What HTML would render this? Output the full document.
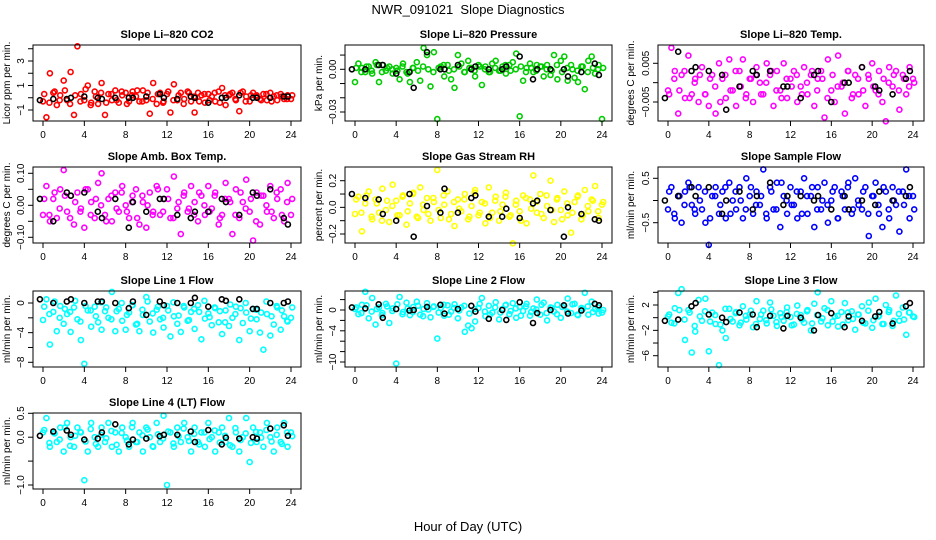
<!DOCTYPE html>
<html><head><meta charset="utf-8"><style>
html,body{margin:0;padding:0;background:#fff;}
svg{display:block;font-family:"Liberation Sans",sans-serif;}
</style></head><body>
<svg id="chart" width="936" height="540" viewBox="0 0 936 540" xmlns="http://www.w3.org/2000/svg">
<rect width="936" height="540" fill="#fff"/>
<text x="468" y="14" text-anchor="middle" font-size="13">NWR_091021&#160; Slope Diagnostics</text>
<text x="468" y="531" text-anchor="middle" font-size="13">Hour of Day (UTC)</text>
<g id="plots"></g>
</svg>
<script>
const hourTicks = [0,4,8,12,16,20,24];
const co2Values = [-0.3,-1.6,2.0,0.4,-0.6,0.2,1.4,-0.2,2.1,-1.4,4.2,0.3,-0.2,1.0,-0.4,0.5,-0.5,1.2,-1.4,0.3,-0.2,0.6,-0.4,0.2,0.4,-0.3,0.5,0.1,-0.3,0.6,-0.2,-1.3,1.2,-0.5,0.4,-0.3,0.3,-1.2,1.1,-0.2,0.4,-0.1,0.5,-0.3,-1.2,0.4,0.2,-0.4,0.3,0.1,-0.3,0.5,0.8,-0.6,0.2,0.4,-0.2,-1.1,0.5,0.1,-0.3,0.4,0.2,-0.1,0.3,-0.2,0.4,0.1,-0.2,0.3,-0.1,0.2,-0.1];
const co2Values2 = [0.3,-0.4,0.5,-0.2,0.6,-0.5,0.2,-0.3,0.7,-0.6,0.1,0.4,-0.4,0.3,-0.2,0.5,-0.5,0.2,0.6,-0.3,0.4,-0.1,0.3,-0.4,0.5,-0.2,0.2,-0.5,0.4,0.1,-0.3,0.3,-0.2,0.4,-0.4,0.2,0.3,-0.1,0.4,-0.3,0.2,0.1,-0.2,0.3,-0.3,0.2,0.1,-0.1,0.2];
const co2Black = [-0.2,-0.1,-0.1,0,0.1,0,-0.1,0,0,0,0.1,0.3,0,-0.1,0.1,0,-0.4,0,0,0.2,0,0,0,0.1,0.1];
const presValues = [-0.009,0.004,0.001,-0.002,0.002,-0.003,0.005,-0.009,0.003,-0.001,0.002,-0.003,0.001,-0.007,0.004,-0.002,-0.009,0.001,0.005,-0.008,0.015,0.010,-0.012,0.012,-0.035,0.002,-0.005,0.003,-0.007,-0.013,0.010,0.004,-0.002,0.006,0.001,-0.005,0.003,-0.011,0.002,-0.002,0.004,0.006,-0.001,0.002,-0.003,0.003,0.005,0.011,-0.033,-0.008,0.001,0.004,-0.002,0.003,0.002,-0.005,0.003,-0.004,0.010,-0.007,0.006,0.009,-0.008,0.003,-0.006,-0.009,0.002,-0.014,0.006,0.009,-0.003,0.003,-0.035];
const presValues2 = [0.001,-0.002,0.002,-0.001,0.003,-0.002,0.001,0,-0.001,0.002,-0.003,0.001,-0.001,0.002,0,-0.002,0.001,0.003,-0.001,0,0.002,-0.002,0.001,-0.001,0.002,0,-0.002,0.001,-0.001,0.003,-0.001,0,0.002,-0.002,0.001,-0.001,0.002,0,-0.001,0.003,-0.002,0.001,0,-0.001,0.002,-0.002,0.001,0,0.001];
const presBlack = [0,0,0.003,0.003,-0.003,-0.002,-0.013,0.012,0,0,0.003,0,0.002,0,0,0.002,0.009,-0.007,0,0,0,-0.005,-0.002,0.004,-0.004];
const ltempValues = [-0.002,0.009,0.003,-0.008,0.002,-0.004,0.007,-0.003,0.001,-0.005,0.004,-0.003,-0.006,0.002,-0.008,0.005,0.001,-0.004,0.006,-0.002,-0.006,0.003,0.006,-0.003,0.001,-0.005,0.004,0,-0.003,0.005,0.002,-0.006,0.003,-0.002,0.005,-0.004,0.001,0.003,-0.005,-0.001,0.004,-0.003,0.002,-0.006,0.001,0.003,-0.009,0.006,-0.002,-0.005,0.007,-0.001,-0.008,0.003,-0.004,0.002,-0.003,0.004,-0.006,0.001,0.005,-0.002,0.003,-0.005,-0.010,0.004,-0.001,0.003,-0.007,0.002,-0.003,0.004,0.001];
const ltempValues2 = [-0.003,0.001,-0.002,0.003,-0.004,0,0.002,-0.003,0.001,-0.001,-0.005,0.002,-0.002,0.003,-0.001,-0.004,0.001,0.002,-0.003,0,0.003,-0.002,-0.004,0.001,-0.001,0.002,-0.003,0,0.003,-0.002,0.001,-0.004,0.002,-0.001,0,0.003,-0.003,0.001,-0.002,0.002,-0.001,-0.003,0.001,0,0.002,-0.002,0.001,-0.001,0];
const ltempBlack = [-0.004,0.008,0.003,0.004,0.003,0.002,-0.007,-0.001,0.003,0.002,0.003,-0.001,-0.001,-0.004,0.002,0.003,-0.005,0,0,0.004,-0.001,-0.002,-0.003,0.001,0.003];
const ambValues = [-0.03,0.06,-0.05,0.02,-0.04,0.05,0.11,-0.02,0.03,-0.06,0.04,-0.01,-0.07,0.05,0.01,-0.04,0.07,0.10,-0.03,0.02,-0.05,0.04,-0.02,0.06,0,-0.04,0.03,0.05,-0.06,0.01,-0.07,0.04,-0.02,0.06,-0.03,0.02,0.05,-0.04,0.09,-0.01,-0.09,0.04,-0.02,0.06,0.01,-0.05,0.03,-0.03,0.06,-0.01,0.04,-0.06,-0.03,0.07,0.02,-0.09,0.05,-0.04,0.01,0.08,-0.02,-0.11,0.04,-0.06,0.03,-0.02,0.06,-0.04,0.02,0.05,-0.05,0.07,-0.03];
const ambValues2 = [0.02,-0.03,0.04,-0.01,0.03,-0.04,0.01,-0.02,0.05,-0.03,0.02,0,-0.05,0.03,-0.01,0.04,-0.02,0.01,-0.04,0.03,0,-0.03,0.05,-0.02,0.02,-0.04,0.01,0.03,-0.01,-0.03,0.04,0,-0.02,0.03,-0.04,0.02,0.01,-0.03,0.04,-0.01,0.02,-0.05,0.03,0,-0.02,0.04,-0.03,0.01,0.02];
const ambBlack = [0.02,-0.05,0.04,0.03,0.04,-0.02,-0.04,0.02,-0.07,0.01,-0.02,0.02,0.02,-0.03,-0.04,-0.02,-0.02,0.02,0.01,-0.03,0.04,0.03,0.05,-0.04,-0.06];
const rhValues = [-0.05,0.08,-0.18,0.03,0.12,-0.09,0.06,-0.04,0.14,-0.02,-0.11,0.17,0.05,-0.06,0.09,-0.13,0.03,0.11,-0.07,0.15,-0.02,0.07,-0.10,0.04,0.28,-0.08,0.02,0.12,-0.05,-0.14,0.06,-0.03,0.10,-0.09,0.01,0.13,-0.06,0.04,-0.12,0.15,-0.04,0.08,-0.10,0.02,0.11,-0.07,-0.27,0.05,-0.03,0.09,-0.12,0.06,0.24,-0.04,0.10,-0.08,0.01,0.20,-0.11,0.07,-0.02,0.12,-0.06,-0.19,0.04,0.09,-0.09,0.13,-0.03,0.06,0.16,-0.08,0.02];
const rhValues2 = [0.06,-0.04,0.09,-0.07,0.03,-0.10,0.05,0.01,-0.06,0.08,-0.03,0.10,-0.08,0.02,-0.05,0.07,-0.02,0.09,-0.09,0.04,-0.01,0.06,-0.07,0.11,-0.04,0.03,-0.08,0.05,-0.03,0.08,-0.06,0.02,-0.10,0.07,-0.01,0.04,-0.05,0.09,-0.02,0.06,-0.09,0.03,-0.04,0.08,-0.06,0.01,0.05,-0.03,0.04];
const rhBlack = [0.10,0.07,0.06,-0.05,-0.10,0.10,-0.22,0.01,-0.04,0.14,-0.04,0.07,0.09,-0.07,-0.07,-0.01,-0.08,0.03,0.05,-0.02,-0.22,0,-0.05,-0.09,-0.10];
const flowValues = [-0.2,0.3,-0.4,0.1,-0.5,0.2,0.4,-0.1,-0.3,0.3,-0.2,-0.5,-1.0,0.1,0.3,-0.3,0.2,-0.4,0.4,0,-0.2,0.3,-0.4,0.5,0.1,-0.3,0.2,-0.1,0.7,-0.4,0.3,-0.2,0.4,-0.6,0.1,-0.3,0.3,-0.1,-0.4,0.2,0.5,-0.3,0.1,-0.6,0.3,-0.2,0.4,-0.5,0,0.3,-0.4,0.2,-0.2,0.4,-0.3,0.5,-0.1,-0.2,0.3,-0.8,0.1,0.4,-0.3,-0.6,0.2,-0.4,0.3,-0.1,-0.7,0.2,0.7,-0.4,0.1];
const flowValues2 = [0.2,-0.3,0.1,-0.1,0.3,-0.2,0,0.2,-0.4,0.1,-0.1,0.3,-0.3,0.2,0,-0.2,0.3,-0.1,0.1,-0.3,0.2,-0.2,0.4,0,-0.1,0.2,-0.3,0.1,0.3,-0.2,0,-0.1,0.2,-0.4,0.1,0.3,-0.2,0,0.2,-0.3,0.1,-0.1,0.3,-0.2,0,0.2,-0.1,0.1,-0.2];
const flowBlack = [0,0.1,0.3,0.1,0.3,-0.3,0,0.2,-0.2,0.1,0.4,-0.1,0.1,0.1,0,0.1,-0.2,0.1,-0.2,0,-0.1,0.2,0,0.1,0.3];
const line1Values = [-2.3,0.5,-5.6,-1.2,-3.8,-0.4,-2.8,-1.5,-3.9,-0.6,-2.2,-5.0,-8.2,-1.0,-3.2,-0.5,-2.6,-3.6,-1.1,-2.0,1.5,-3.8,-0.8,-2.4,-3.6,-1.3,-0.3,-2.9,-3.8,-1.6,0.8,-2.5,-4.0,-0.9,-2.2,-3.3,-0.4,-4.5,-1.8,-2.8,-3.9,-0.6,-2.4,-1.2,-3.5,-0.3,-4.9,-2.1,-1.4,-3.0,-0.7,-2.6,-4.2,-1.0,-3.1,-2.0,-0.5,-5.0,-2.7,-1.3,-3.8,-0.8,-2.2,-4.0,-6.3,-1.5,-4.4,-2.9,-0.6,-3.6,-1.8,-2.5,-2.0];
const line1Values2 = [-0.5,-1.5,0.2,-2.0,-0.8,-1.2,0.3,-2.5,-0.4,-1.0,-1.8,0.1,-0.6,-2.2,-1.1,0.0,-1.6,-0.3,-2.8,-0.9,0.2,-1.4,-0.5,-2.0,-1.0,0.1,-1.7,-0.4,-2.3,-0.8,-1.2,0.3,-1.9,-0.6,-1.1,-2.6,-0.2,-1.5,-0.7,0.0,-2.1,-0.9,-1.3,0.2,-1.8,-0.4,-1.0,-2.4,-0.6];
const line1Black = [0.5,0,0.2,0.5,0,0.2,0.2,0,-0.7,0.2,-1.6,0.2,-0.3,0,0,0.7,-0.5,0.5,0.3,0.5,-0.8,-0.8,0,0,0.2];
const line2Values = [0.2,-0.8,1.0,3.5,-1.6,2.3,-2.8,0.5,-0.6,1.2,-2.5,0.3,-10.3,2.5,-0.4,1.4,-1.0,0.6,1.6,-0.9,0.2,1.3,-1.4,0.7,-5.5,0.4,-1.1,0.9,-0.3,1.1,-1.6,0.5,-4.2,-3.0,-3.5,-2.2,0.4,2.3,-1.2,0.8,-0.5,1.5,-1.8,0.2,1.0,-0.8,1.3,-1.5,0.6,-0.2,1.2,-1.1,0.3,2.0,-0.9,1.4,-2.0,0.5,-0.3,1.0,-1.5,0.8,2.2,-0.6,1.2,-1.0,0.4,3.3,-0.9,1.6,0.2,-0.7,-0.5];
const line2Values2 = [0.5,-0.6,0.9,-0.3,0.2,-1.0,0.7,-0.2,1.1,-0.8,0.3,-0.4,0.8,-1.2,0.1,0.6,-0.5,1.0,-0.9,0.4,-0.1,0.8,-0.7,0.2,1.2,-0.3,-0.9,0.5,-0.5,0.9,-0.2,0.3,-1.1,0.7,-0.4,0.1,1.0,-0.6,0.4,-0.8,0.6,-0.3,1.1,-0.9,0.2,0.7,-0.4,0.5,0.0];
const line2Black = [0.5,0.3,1.1,-1.5,0.2,-0.1,0,0.6,1.0,-0.7,0.2,0.8,-0.3,-1.7,0,-1.9,1.5,-2.5,-0.6,0,0.9,-0.7,-0.1,1.2,0.9];
const line3Values = [0.2,-0.8,1.5,3.9,4.5,-3.5,1.2,-5.5,-2.2,2.8,-0.5,3.0,-5.3,0.8,-1.0,-7.5,-2.0,-3.2,1.4,-0.6,0.9,-1.2,1.8,-0.3,0.5,-1.5,2.6,-0.2,1.1,-0.9,2.4,0.3,-1.3,0.7,-0.5,1.6,0.1,-1.1,1.9,0.4,-0.8,1.2,-2.0,2.2,4.0,-0.6,1.5,-1.2,2.6,0.2,-1.4,0.9,2.3,-0.4,1.0,-1.9,0.5,1.8,-0.9,2.4,-1.6,3.0,0.3,-1.0,2.0,1.2,-1.3,3.5,-0.5,1.6,-2.7,0.8,0.2];
const line3Values2 = [0.5,-0.9,1.2,-0.3,0.8,-1.3,0.2,1.0,-0.6,0.4,-1.1,1.4,-0.2,0.7,-0.8,0.3,1.1,-1.0,0.5,-0.4,1.3,-0.7,0.1,0.9,-1.2,0.6,-0.3,1.0,-0.9,0.4,-0.1,1.2,-0.6,0.3,-1.1,0.8,-0.2,0.5,-0.8,1.1,-0.4,0.2,-1.0,0.9,-0.5,0.6,-0.3,0.8,0.1];
const line3Black = [-0.5,-0.3,1.8,2.3,0.5,0,-0.7,0.8,0.5,-1.5,0.3,-1.7,0.3,0,-2.0,0.4,0.7,-1.5,0.2,-0.5,0.2,0.9,-0.9,1.8,2.3];
const line4Values = [0.1,0.4,-0.2,0.1,-0.1,0.2,-0.3,0.3,0,-0.2,0.2,0.1,-0.9,-0.3,0.3,0,-0.2,0.2,-0.1,0.3,-0.2,0.1,-0.3,0.2,0,-0.2,0.3,-0.1,0.1,-0.3,0.2,0,-0.2,0.3,-0.1,0.45,-1.0,0.1,-0.2,0.2,-0.1,0.3,0,-0.3,0.2,-0.1,0.1,-0.2,0.3,0,-0.3,0.1,0.2,-0.1,0.4,-0.2,0.1,-0.3,0,0.4,-0.52,0.2,-0.1,0.1,-0.2,0.3,0,-0.3,0.2,-0.1,0.3,-0.2,0.1];
const line4Values2 = [0.15,-0.12,0.08,-0.05,0.20,-0.18,0.03,0.11,-0.09,0.17,-0.14,0.05,-0.02,0.13,-0.16,0.09,-0.07,0.21,-0.10,0.04,0.16,-0.19,0.06,-0.03,0.12,-0.13,0.02,0.18,-0.08,0.07,-0.15,0.10,-0.04,0.14,-0.11,0.03,-0.17,0.19,-0.06,0.08,-0.12,0.11,-0.01,0.15,-0.09,0.05,-0.14,0.10,0.02];
const line4Black = [0.03,0.12,0.14,0.05,-0.05,-0.03,0.10,0.27,-0.15,-0.05,-0.03,0.02,0.05,0.05,0.12,-0.10,0.15,-0.15,-0.01,-0.03,0,-0.03,0.18,0.25,0.03];

const colX = [{l:33,r:301,x0:43,x24:291,lab:10,tl:21},{l:345,r:612,x0:355,x24:602,lab:322,tl:333},{l:658,r:924,x0:668,x24:913,lab:634,tl:646}];
const rowTop = [45,167,291,413];
const H = 76;
const panels = [
 {id:'co2',title:'Slope Li\u2013820 CO2',ylab:'Licor ppm per min.',col:0,row:0,color:'#ff0000',vals:[co2Values,co2Values2],blk:co2Black,ya:3,pa:61,yb:-1,pb:110,ticks:[-1,0,1,2,3,4],labels:[[3,'3'],[1,'1'],[-1,'\u22121']]},
 {id:'pressure',title:'Slope Li\u2013820 Pressure',ylab:'kPa per min.',col:1,row:0,color:'#00cc00',vals:[presValues,presValues2],blk:presBlack,ya:0,pa:69.3,yb:-0.03,pb:112,ticks:[0.01,0,-0.01,-0.02,-0.03],labels:[[0,'0.00'],[-0.03,'\u22120.03']]},
 {id:'li-temp',title:'Slope Li\u2013820 Temp.',ylab:'degrees C per min.',col:2,row:0,color:'#ff00ff',vals:[ltempValues,ltempValues2],blk:ltempBlack,ya:0.005,pa:63.3,yb:-0.005,pb:102,ticks:[0.005,0,-0.005],labels:[[0.005,'0.005'],[-0.005,'\u22120.005']]},
 {id:'amb-box-temp',title:'Slope Amb. Box Temp.',ylab:'degrees C per min.',col:0,row:1,color:'#ff00ff',vals:[ambValues,ambValues2],blk:ambBlack,ya:0.1,pa:173.3,yb:-0.1,pb:237.3,ticks:[0.1,0.05,0,-0.05,-0.1],labels:[[0.1,'0.10'],[0,'0.00'],[-0.1,'\u22120.10']]},
 {id:'gas-rh',title:'Slope Gas Stream RH',ylab:'percent per min.',col:1,row:1,color:'#ffff00',vals:[rhValues,rhValues2],blk:rhBlack,ya:0.2,pa:180.7,yb:-0.2,pb:234,ticks:[0.2,0.1,0,-0.1,-0.2],labels:[[0.2,'0.2'],[0,'0.0'],[-0.2,'\u22120.2']]},
 {id:'sample-flow',title:'Slope Sample Flow',ylab:'ml/min per min.',col:2,row:1,color:'#0000ff',vals:[flowValues,flowValues2],blk:flowBlack,ya:0.5,pa:178.3,yb:-0.5,pb:222.7,ticks:[0.5,0,-0.5],labels:[[0.5,'0.5'],[-0.5,'\u22120.5']]},
 {id:'line1-flow',title:'Slope Line 1 Flow',ylab:'ml/min per min.',col:0,row:2,color:'#00ffff',vals:[line1Values,line1Values2],blk:line1Black,ya:0,pa:303,yb:-8,pb:362.3,ticks:[0,-2,-4,-6,-8],labels:[[0,'0'],[-4,'\u22124'],[-8,'\u22128']]},
 {id:'line2-flow',title:'Slope Line 2 Flow',ylab:'ml/min per min.',col:1,row:2,color:'#00ffff',vals:[line2Values,line2Values2],blk:line2Black,ya:0,pa:310,yb:-10,pb:362,ticks:[2,0,-2,-4,-6,-8,-10],labels:[[0,'0'],[-4,'\u22124'],[-10,'\u221210']]},
 {id:'line3-flow',title:'Slope Line 3 Flow',ylab:'ml/min per min.',col:2,row:2,color:'#00ffff',vals:[line3Values,line3Values2],blk:line3Black,ya:2,pa:305,yb:-6,pb:355.7,ticks:[4,2,0,-2,-4,-6],labels:[[2,'2'],[-2,'\u22122'],[-6,'\u22126']]},
 {id:'line4-flow',title:'Slope Line 4 (LT) Flow',ylab:'ml/min per min.',col:0,row:3,color:'#00ffff',vals:[line4Values,line4Values2],blk:line4Black,ya:0.5,pa:413.3,yb:-1.0,pb:485,ticks:[0.5,0,-0.5,-1.0],labels:[[0.5,'0.5'],[0,'0.0'],[-1.0,'\u22121.0']]}
];
const NS='http://www.w3.org/2000/svg';
const root=document.getElementById('plots');
function mk(tag,attrs,parent){const e=document.createElementNS(NS,tag);for(const k in attrs)e.setAttribute(k,attrs[k]);parent.appendChild(e);return e;}
panels.forEach(p=>{
  const c=colX[p.col], top=rowTop[p.row], bot=top+H;
  const g=mk('g',{},root);
  
  
  const xs=h=>c.x0+(c.x24-c.x0)*h/24;
  const ys=v=>p.pa+(v-p.ya)*(p.pb-p.pa)/(p.yb-p.ya);
  const t=mk('text',{x:(c.l+c.r)/2,y:top-7,'text-anchor':'middle','font-size':'11','font-weight':'bold'},g);
  t.textContent=p.title;
  
  
  const yl=mk('text',{x:0,y:0,'text-anchor':'middle','font-size':'10',transform:`translate(${c.lab},${top+H/2}) rotate(-90)`},g);
  yl.textContent=p.ylab;
  
  
  const pts=mk('g',{fill:'none',stroke:p.color,'stroke-width':'1.6'},g);
  
  
  p.vals.forEach((arr,k)=>{
    const n=arr.length;
    arr.forEach((v,i)=>{
      const cc=mk('circle',{cx:xs(i*24/(n-1)+(k?0.12:0)).toFixed(1),cy:ys(v).toFixed(1),r:'2.5'},pts);
      
      
    });
  });
  const bp=mk('g',{fill:'none',stroke:'#000','stroke-width':'1.6'},g);
  
  
  const m=p.blk.length;
  p.blk.forEach((v,i)=>{
    const cc=mk('circle',{cx:xs(i*24/(m-1)+0.3*((i%3)-1)).toFixed(1),cy:ys(v).toFixed(1),r:'2.5'},bp);
    
    
  });
  const box=mk('rect',{x:c.l,y:top,width:c.r-c.l,height:H,fill:'none',stroke:'#000','stroke-width':'1'},g);
  
  
  const xa=mk('g',{'font-size':'10'},g);
  
  
  hourTicks.forEach(h=>{
    mk('line',{x1:xs(h),x2:xs(h),y1:bot,y2:bot+5,stroke:'#000'},xa);
    const tl=mk('text',{x:xs(h),y:bot+17,'text-anchor':'middle'},xa);
    tl.textContent=h;
  });
  const ya=mk('g',{'font-size':'10'},g);
  
  
  p.ticks.forEach(v=>{const y=ys(v);if(y<top-0.5||y>bot+0.5)return;mk('line',{x1:c.l-5,x2:c.l,y1:y,y2:y,stroke:'#000'},ya);});
  p.labels.forEach(([v,s])=>{
    const tl=mk('text',{x:0,y:0,'text-anchor':'middle',transform:`translate(${c.tl+3},${ys(v)}) rotate(-90)`},ya);
    tl.textContent=s;
  });
});
</script>
</body></html>
